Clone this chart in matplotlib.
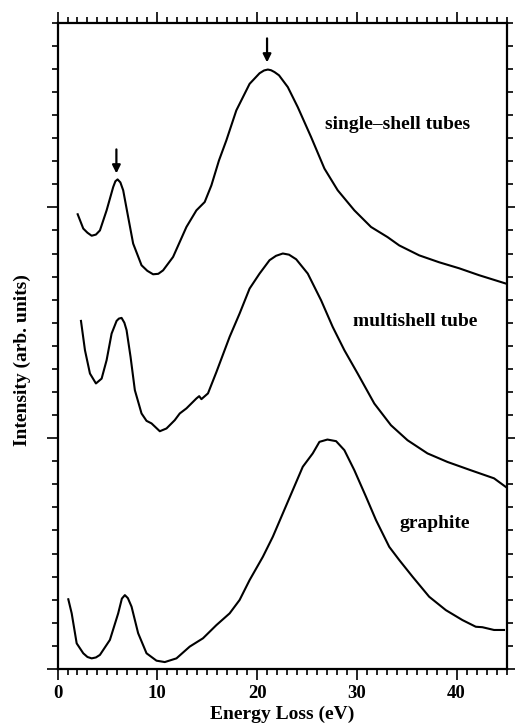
import numpy as np
import matplotlib
matplotlib.use('Agg')
import matplotlib.pyplot as plt
from matplotlib.ticker import MultipleLocator, NullFormatter

plt.rcParams['font.family'] = ['Liberation Serif', 'DejaVu Serif']

# single-shell tubes (energy loss in eV, intensity in arb. units)
ss_x = [2.02, 2.58, 3.0, 3.42, 3.85, 4.25, 4.92, 5.58, 5.8, 6.02, 6.3, 6.58,
        7.08, 7.58, 8.42, 9.0, 9.58, 10.1, 10.58, 11.58, 12.92, 13.92, 14.75,
        15.42, 16.18, 16.92, 17.92, 19.25, 20.25, 20.7, 21.08, 21.4, 21.75,
        22.2, 23.08, 24.08, 25.42, 26.75, 28.08, 29.75, 31.42, 33.08, 34.25,
        36.25, 38.25, 40.25, 42.25, 44.92]
ss_y = [1.970, 1.908, 1.890, 1.877, 1.882, 1.900, 1.987, 2.088, 2.113, 2.121,
        2.108, 2.074, 1.958, 1.843, 1.749, 1.725, 1.710, 1.712, 1.727, 1.785,
        1.915, 1.987, 2.023, 2.095, 2.203, 2.290, 2.420, 2.535, 2.581, 2.593,
        2.597, 2.594, 2.586, 2.572, 2.521, 2.434, 2.304, 2.168, 2.074, 1.987,
        1.915, 1.871, 1.835, 1.792, 1.762, 1.736, 1.706, 1.670]

# multishell tube
ms_x = [2.35, 2.75, 3.25, 3.85, 4.42, 4.92, 5.42, 5.92, 6.15, 6.42, 6.7, 6.92,
        7.32, 7.75, 8.42, 8.92, 9.42, 10.25, 10.92, 11.75, 12.25, 12.92, 13.92,
        14.2, 14.42, 15.08, 15.92, 17.25, 18.25, 19.25, 20.25, 21.25, 21.9,
        22.58, 23.2, 23.92, 25.08, 26.42, 27.58, 28.75, 30.08, 31.75, 33.42,
        35.08, 37.08, 39.08, 41.42, 43.75, 44.92]
ms_y = [1.508, 1.381, 1.280, 1.237, 1.258, 1.338, 1.453, 1.508, 1.518, 1.521,
        1.500, 1.468, 1.352, 1.208, 1.107, 1.075, 1.064, 1.030, 1.042, 1.078,
        1.107, 1.129, 1.172, 1.182, 1.169, 1.194, 1.286, 1.439, 1.540, 1.648,
        1.713, 1.771, 1.790, 1.800, 1.795, 1.775, 1.713, 1.597, 1.482, 1.381,
        1.280, 1.150, 1.056, 0.991, 0.934, 0.897, 0.861, 0.826, 0.789]

# graphite
gr_x = [1.08, 1.42, 1.92, 2.58, 3.0, 3.42, 3.85, 4.25, 5.25, 6.08, 6.45, 6.75,
        7.05, 7.42, 8.08, 8.92, 9.92, 10.75, 11.92, 13.25, 14.58, 15.92, 17.25,
        18.25, 19.25, 20.58, 21.58, 22.58, 23.58, 24.58, 25.58, 26.25, 27.05,
        27.92, 28.75, 29.75, 30.92, 31.92, 33.25, 34.25, 35.58, 37.25, 38.92,
        40.58, 41.92, 42.58, 43.75, 44.75]
gr_y = [0.302, 0.241, 0.111, 0.068, 0.052, 0.046, 0.050, 0.061, 0.126, 0.241,
        0.305, 0.320, 0.307, 0.270, 0.155, 0.068, 0.036, 0.030, 0.046, 0.097,
        0.133, 0.190, 0.241, 0.299, 0.385, 0.486, 0.573, 0.674, 0.775, 0.876,
        0.934, 0.984, 0.994, 0.987, 0.948, 0.861, 0.746, 0.645, 0.529, 0.472,
        0.400, 0.313, 0.255, 0.212, 0.183, 0.181, 0.169, 0.169]

labels = ['single\u2013shell tubes', 'multishell tube', 'graphite']
label_x = [26.85, 29.65, 34.25]
label_y = [2.36, 1.506, 0.632]

# arrows marking the plasmon peaks
arrow_x = [5.9, 21.0]
arrow_top = [2.251, 2.732]
arrow_tip = [2.147, 2.628]

fig = plt.figure(figsize=(5.15, 7.27), dpi=100)
ax = fig.add_axes([0.1117, 0.0798, 0.8718, 0.889])

for xs, ys in [(ss_x, ss_y), (ms_x, ms_y), (gr_x, gr_y)]:
    ax.plot(xs, ys, color='black', linewidth=1.5)

for t, tx, ty in zip(labels, label_x, label_y):
    ax.text(tx, ty, t, fontsize=14, fontweight='bold', ha='left', va='center')

for x, y0, y1 in zip(arrow_x, arrow_top, arrow_tip):
    ax.annotate('', xy=(x, y1), xytext=(x, y0),
                arrowprops=dict(arrowstyle='-|>', color='black', lw=1.6,
                                mutation_scale=12, shrinkA=0, shrinkB=0))

ax.set_xlim(0, 45)
ax.set_ylim(0, 2.8)
ax.xaxis.set_major_locator(MultipleLocator(10))
ax.xaxis.set_minor_locator(MultipleLocator(1))
ax.yaxis.set_major_locator(MultipleLocator(1))
ax.yaxis.set_minor_locator(MultipleLocator(0.1))
ax.yaxis.set_major_formatter(NullFormatter())
ax.tick_params(which='both', direction='out', top=True, right=True, width=1.2,
               labelsize=13.5)
ax.tick_params(which='major', length=8)
ax.tick_params(which='minor', length=4)
for lab in ax.get_xticklabels():
    lab.set_fontweight('bold')
for s in ax.spines.values():
    s.set_linewidth(1.6)

ax.set_xlabel('Energy Loss (eV)', fontsize=14, fontweight='bold', labelpad=3)
ax.set_ylabel('Intensity (arb. units)', fontsize=14, fontweight='bold')
ax.yaxis.set_label_coords(-0.06, 0.478)

fig.savefig('out.png', dpi=100)
